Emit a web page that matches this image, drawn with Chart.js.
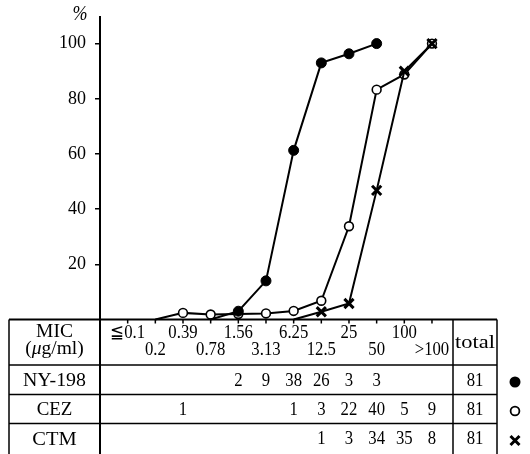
<!DOCTYPE html>
<html><head><meta charset="utf-8">
<script src="https://cdn.jsdelivr.net/npm/chart.js@4.4.1/dist/chart.umd.min.js"></script>
<style>html,body{margin:0;padding:0;background:#fff}#wrap{width:530px;height:454px;position:relative}</style>
</head><body><div id="wrap"><canvas id="c" width="530" height="454"></canvas></div>
<script>
// ---- data ----
const micLabels = ['≦0.1','0.2','0.39','0.78','1.56','3.13','6.25','12.5','25','50','100','>100'];
const yTicks = [20, 40, 60, 80, 100];
const drugNames = ['NY-198', 'CEZ', 'CTM'];
const nyCounts  = [null,null,null,null,2,9,38,26,3,3,null,null];
const cezCounts = [null,null,1,null,null,null,1,3,22,40,5,9];
const ctmCounts = [null,null,null,null,null,null,null,1,3,34,35,8];
const totals = [81, 81, 81];
// cumulative %
const nyCum  = [null,null,null,0,3,14,61.3,93,96.3,100,null,null];
const cezCum = [null,0,2.4,1.8,2,2.2,3.1,6.8,33.8,83.3,88.8,100];
const ctmCum = [null,null,null,null,null,null,0,2.8,5.8,46.8,90,100];

const FONT = '"Liberation Serif", "DejaVu Serif", serif';
function toXY(arr){ return arr.map((v,i)=> v===null?null:{x:i,y:v}).filter(Boolean); }
function txt(ctx, s, x, y, size, sx, align, style){
  ctx.save();
  ctx.font = (style||'') + ' ' + size + 'px ' + FONT;
  ctx.textAlign = align||'center'; ctx.textBaseline = 'middle';
  ctx.fillStyle = '#000';
  ctx.translate(x, y); ctx.scale(sx||1, 1);
  ctx.fillText(s, 0, 0);
  ctx.restore();
}
function marker(ctx, kind, x, y){
  ctx.save(); ctx.strokeStyle='#000'; ctx.fillStyle='#000';
  if (kind===0){ ctx.beginPath(); ctx.arc(x,y,5.5,0,Math.PI*2); ctx.fill(); }
  else if (kind===1){ ctx.fillStyle='#fff'; ctx.lineWidth=1.8; ctx.beginPath(); ctx.arc(x,y,4.4,0,Math.PI*2); ctx.fill(); ctx.stroke(); }
  else { ctx.lineWidth=3; const r=4.5; ctx.beginPath(); ctx.moveTo(x-r,y-r); ctx.lineTo(x+r,y+r); ctx.moveTo(x+r,y-r); ctx.lineTo(x-r,y+r); ctx.stroke(); }
  ctx.restore();
}

const tablePlugin = {
  id: 'micTable',
  afterDraw(chart){
    const ctx = chart.ctx, xs = chart.scales.x, area = chart.chartArea;
    const L = 9, A = area.left, T = area.right, R = 497, B = 454;
    const rows = [area.bottom, 365, 394.5, 423.5];
    ctx.save();
    ctx.strokeStyle = '#000';
    ctx.lineWidth = 2;
    ctx.beginPath(); ctx.moveTo(L, rows[0]); ctx.lineTo(R, rows[0]); ctx.stroke();
    ctx.lineWidth = 1.5;
    for (let i=1;i<rows.length;i++){ ctx.beginPath(); ctx.moveTo(L, rows[i]); ctx.lineTo(R, rows[i]); ctx.stroke(); }
    [L, T, R].forEach(x=>{ ctx.beginPath(); ctx.moveTo(x, rows[0]); ctx.lineTo(x, B); ctx.stroke(); });
    ctx.lineWidth = 2;
    ctx.beginPath(); ctx.moveTo(A, area.top); ctx.lineTo(A, B); ctx.stroke();
    ctx.lineWidth = 1.5;
    micLabels.forEach((_,i)=>{ const px = xs.getPixelForValue(i); ctx.beginPath(); ctx.moveTo(px, rows[0]); ctx.lineTo(px, rows[0]+4); ctx.stroke(); });
    ctx.restore();

    // header
    txt(ctx, 'MIC', (L+A)/2, 331.5, 19.5, 1.0);
    const p1='(', p2='μ', p3='g/ml)', hs = 1.0;
    ctx.save();
    ctx.font = '19.5px ' + FONT; const w1 = ctx.measureText(p1).width*hs, w3 = ctx.measureText(p3).width*hs;
    ctx.font = 'italic 19.5px ' + FONT; const w2 = ctx.measureText(p2).width*hs;
    ctx.restore();
    let sx0 = (L+A)/2 - (w1+w2+w3)/2;
    txt(ctx, p1, sx0, 349, 19.5, hs, 'left');
    txt(ctx, p2, sx0+w1, 349, 19.5, hs, 'left', 'italic');
    txt(ctx, p3, sx0+w1+w2, 349, 19.5, hs, 'left');
    micLabels.forEach((lab,i)=>{
      ctx.save(); ctx.font = '19px ' + FONT; const w = ctx.measureText(lab).width*0.88; ctx.restore();
      let px = xs.getPixelForValue(i);
      px = Math.max(px, A + 4 + w/2); px = Math.min(px, T - 3 - w/2);
      txt(ctx, lab, px, i%2===0 ? 333.5 : 350.5, 19, 0.88);
    });
    txt(ctx, 'total', (T+R)/2, 343, 19.5, 1.15);
    // count rows
    const countRows = [nyCounts, cezCounts, ctmCounts];
    const rowY = [381, 410, 439.5];
    const nameSx = [1.02, 0.97, 1.05];
    countRows.forEach((arr,r)=>{
      txt(ctx, drugNames[r], (L+A)/2, rowY[r], 19.5, nameSx[r]);
      arr.forEach((v,i)=>{ if (v!==null) txt(ctx, String(v), xs.getPixelForValue(i), rowY[r], 19, 0.88); });
      txt(ctx, String(totals[r]), (T+R)/2, rowY[r], 19, 0.88);
      marker(ctx, r, 515, rowY[r]+1);
    });
    txt(ctx, '%', 80, 15, 20, 0.9, 'center', 'italic');
  }
};

const datasets = [
  { label: drugNames[0], data: toXY(nyCum), borderColor:'#000', borderWidth:2, pointStyle:'circle',
    pointRadius: c=> c.raw.y===0?0:5, pointBackgroundColor:'#000', pointBorderColor:'#000', pointBorderWidth:1 },
  { label: drugNames[2], data: toXY(ctmCum), borderColor:'#000', borderWidth:2, pointStyle:'crossRot',
    pointRadius: c=> c.raw.y===0?0:6.5, pointBorderColor:'#000', pointBorderWidth:3 },
  { label: drugNames[1], data: toXY(cezCum), borderColor:'#000', borderWidth:2, pointStyle:'circle',
    pointRadius: c=> c.raw.y===0?0:4.4, pointBackgroundColor:'#fff', pointBorderColor:'#000', pointBorderWidth:1.6 }
].map(d=>Object.assign(d, { tension:0, clip:false, fill:false, showLine:true }));

new Chart(document.getElementById('c'), {
  type: 'line',
  data: { datasets },
  options: {
    responsive: false, animation: false, devicePixelRatio: 1,
    layout: { padding: { left: 0, top: 16, right: 77, bottom: 134.5 } },
    plugins: { legend: { display:false }, tooltip: { enabled:false } },
    scales: {
      x: { type:'linear', min:-1, max:11.76, display:false },
      y: { type:'linear', min:0, max:110,
        afterFit(s){ s.width = 100; s.paddingTop = 0; s.paddingBottom = 0; },
        afterBuildTicks(s){ s.ticks = yTicks.map(v=>({value:v})); },
        border: { display:false },
        grid: { drawOnChartArea:false, drawTicks:true, tickLength:5, color:'#000', lineWidth:1.5 },
        ticks: { color:'#000', padding:9, font:{ family: FONT, size:18 }, callback: v=>String(v) }
      }
    }
  },
  plugins: [tablePlugin]
});
</script></body></html>
